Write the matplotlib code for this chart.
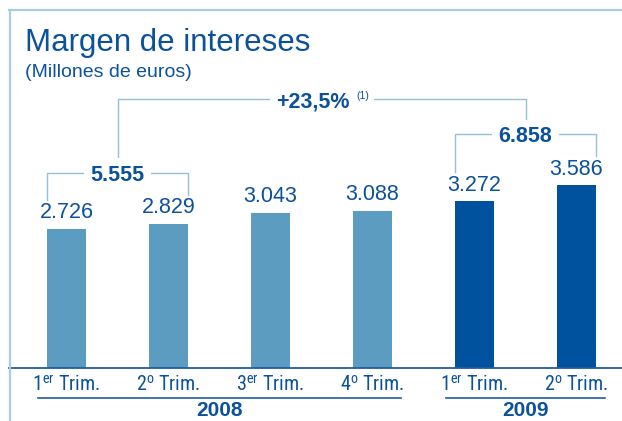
import matplotlib
matplotlib.use("Agg")
import matplotlib.pyplot as plt
from matplotlib.lines import Line2D

# datos (millones de euros)
trimestres = ["1$^{\\mathrm{er}}$ Trim.", "2$^{\\mathrm{o}}$ Trim.", "3$^{\\mathrm{er}}$ Trim.",
              "4$^{\\mathrm{o}}$ Trim.", "1$^{\\mathrm{er}}$ Trim.", "2$^{\\mathrm{o}}$ Trim."]
valores = [2726, 2829, 3043, 3088, 3272, 3586]
etiquetas = ["2.726", "2.829", "3.043", "3.088", "3.272", "3.586"]
anios = ["2008", "2008", "2008", "2008", "2009", "2009"]
suma_2008 = "5.555"
suma_2009 = "6.858"
variacion = "+23,5%"

azul_claro = "#5b9cc0"
azul_osc = "#00519e"
texto = "#0b519b"
linea = "#93c1da"
marco = "#a9cde0"

plt.rcParams["font.family"] = ["Liberation Sans", "DejaVu Sans"]
plt.rcParams["mathtext.fontset"] = "custom"
plt.rcParams["mathtext.rm"] = "Roboto Condensed"
plt.rcParams["mathtext.it"] = "Roboto Condensed"
plt.rcParams["mathtext.bf"] = "Roboto Condensed:bold"

W, H = 622, 421
fig = plt.figure(figsize=(W / 100, H / 100), dpi=100)

# eje: base en y=368 px, barras cada 102 px desde 66.5 px
x0, base, top = 9, 368, 10
paso, c0, escala = 102.0, 66.5, 0.051
ax = fig.add_axes([x0 / W, (H - base) / H, (W - x0) / W, (base - top) / H])
ax.set_xlim(-(c0 - x0) / paso, (W - c0) / paso)
ax.set_ylim(0, (base - top) / escala)
ax.axis("off")

x = list(range(len(valores)))
colores = [azul_claro if a == "2008" else azul_osc for a in anios]
ax.bar(x, valores, width=0.38, color=colores, zorder=2)

# linea base
ax.plot([ax.get_xlim()[0], ax.get_xlim()[1]], [0, 0], color="#1f5fa0", lw=1.3, clip_on=False, zorder=3)

for i, v in enumerate(valores):
    ax.annotate(etiquetas[i], (i, v), xytext=(0, 4), textcoords="offset points",
                ha="center", va="bottom", fontsize=15.5, color=texto)
    ax.annotate(trimestres[i], (i, 0), xytext=(0, -16.5), textcoords="offset points",
                ha="center", va="baseline", fontsize=14.5, color=texto,
                family=["Roboto Condensed", "DejaVu Sans"], annotation_clip=False)

# grupos de años
for anio in ["2008", "2009"]:
    idx = [i for i, a in enumerate(anios) if a == anio]
    y_l = -30 / escala
    ax.plot([idx[0] - 0.28, idx[-1] + 0.28], [y_l, y_l], color="#1f5fa0", lw=1.2, clip_on=False)
    ax.text((idx[0] + idx[-1]) / 2, -48.5 / escala, anio, ha="center", va="baseline",
            fontsize=15, fontweight="bold", color=texto)

# corchetes semestrales
def corchete(i, j, etiqueta):
    yb = max(valores[i], valores[j]) + 1000
    xl, xr = i - 0.19, j + 0.19
    ax.plot([xl, xl, xr, xr], [valores[i] + 570, yb, yb, valores[j] + 570],
            color=linea, lw=1.0, clip_on=False, zorder=1)
    ax.text((i + j) / 2, yb, etiqueta, ha="center", va="center_baseline", fontsize=15.5,
            fontweight="bold", color=texto, zorder=4,
            bbox=dict(boxstyle="square,pad=0.3", fc="white", ec="none"))
    return (i + j) / 2, yb

m1, y1 = corchete(0, 1, suma_2008)
m2, y2 = corchete(4, 5, suma_2009)

yt = max(y1, y2) + 680
ax.plot([m1, m1, m2, m2], [y1 + 230, yt, yt, y2 + 230], color=linea, lw=1.0, clip_on=False, zorder=1)
mid = (m1 + m2) / 2
ax.annotate(variacion, (mid, yt), xytext=(-6, 0), textcoords="offset points",
            ha="center", va="center_baseline", fontsize=15.5, fontweight="bold", color=texto, zorder=4,
            bbox=dict(boxstyle="square,pad=0.3", fc="white", ec="none"))
ax.annotate("(1)", (mid, yt), xytext=(25, 3), textcoords="offset points",
            ha="left", va="center_baseline", fontsize=7.5, color=texto, zorder=4,
            bbox=dict(boxstyle="square,pad=0.5", fc="white", ec="none"))

# marco
fig.add_artist(Line2D([x0 / W, 1], [1 - top / H, 1 - top / H], color=marco, lw=1.6))
fig.add_artist(Line2D([(x0 + 0.5) / W, (x0 + 0.5) / W], [0, 1 - top / H], color=marco, lw=1.6))

fig.text(25 / W, 1 - 51 / H, "Margen de intereses", fontsize=22.5, color=texto, va="baseline")
fig.text(25 / W, 1 - 77 / H, "(Millones de euros)", fontsize=14, color=texto, va="baseline")

fig.savefig("out.png", dpi=100)
